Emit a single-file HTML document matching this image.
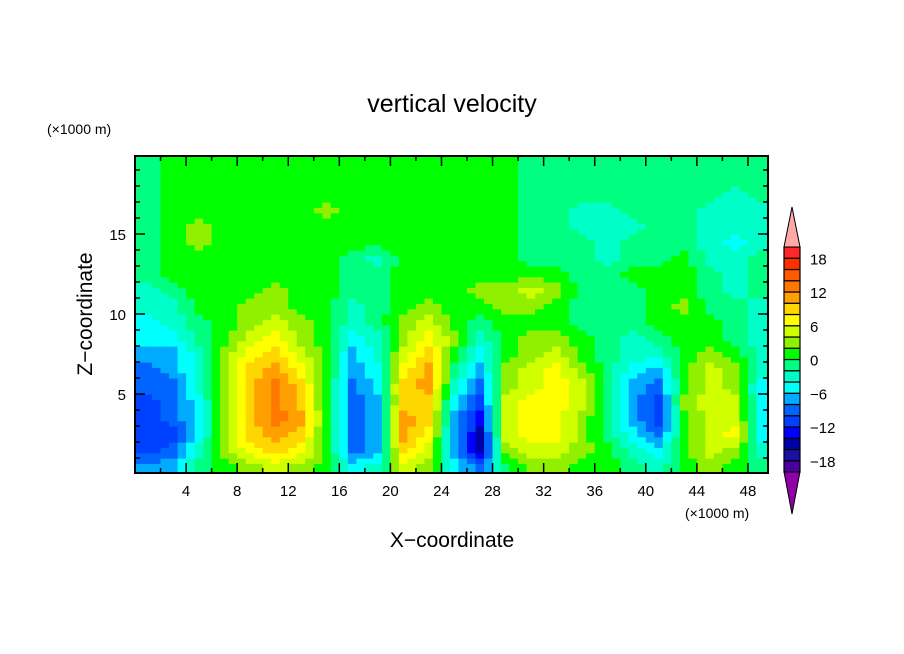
<!DOCTYPE html>
<html><head><meta charset="utf-8"><style>
body{margin:0;background:#fff;}
svg{display:block;font-family:"Liberation Sans",sans-serif;}
</style></head><body>
<svg id="chart" width="904" height="654" viewBox="0 0 904 654">
<rect width="904" height="654" fill="#fff"/>
<text x="452" y="112" text-anchor="middle" font-size="25">vertical velocity</text>
<text x="47" y="134" font-size="14">(×1000 m)</text>
<text x="685" y="518" font-size="14">(×1000 m)</text>
<text x="452" y="547" text-anchor="middle" font-size="21">X−coordinate</text>
<text transform="translate(92,314) rotate(-90)" text-anchor="middle" font-size="21">Z−coordinate</text>
<g id="field"></g>
<g id="axes"></g>
<g id="cbar"></g>
</svg>
<script>
const xCenters=[1,3,5,7,9,11,13,15,17,19,21,23,25,27,29,31,33,35,37,39,41,43,45,47,49];
const zCenters=[0.5,1.5,2.5,3.5,4.5,5.5,6.5,7.5,8.5,9.5,10.5,11.5,12.5,13.5,14.5,15.5,16.5,17.5,18.5,19.5];
const levels=[-20,-18,-16,-14,-12,-10,-8,-6,-4,-2,0,2,4,6,8,10,12,14,16,18,20];
const cbarLabels=[18,12,6,0,-6,-12,-18];
const xTickLabels=[4,8,12,16,20,24,28,32,36,40,44,48];
const zTickLabels=[5,10,15];
// one array per column (values from z=0.5 up to 19.5)
const wCols=[
[-7,-11,-11,-11,-11,-9,-9,-7,-5,-5,-3,-3,-1,-1,-1,-1,-1,-1,-1,-1],
[-7,-9,-11,-9,-9,-9,-7,-7,-5,-3,-3,-1,1,1,1,1,1,1,1,1],
[-1,-3,-5,-5,-5,-3,-3,-3,-1,-1,1,1,1,1,3,3,1,1,1,1],
[1,3,3,3,3,3,3,3,1,1,1,1,1,1,1,1,1,1,1,1],
[3,7,9,9,9,9,9,7,5,3,3,1,1,1,1,1,1,1,1,1],
[5,9,11,13,13,13,11,9,7,5,3,3,1,1,1,1,1,1,1,1],
[3,7,9,11,9,9,7,5,3,3,1,1,1,1,1,1,1,1,1,1],
[1,1,1,1,1,1,1,1,1,1,1,1,1,1,1,1,3,1,1,1],
[-5,-9,-9,-9,-9,-9,-7,-7,-5,-3,-3,-1,-1,-1,1,1,1,1,1,1],
[-3,-7,-7,-7,-7,-5,-5,-3,-3,-1,-1,-1,-1,-3,1,1,1,1,1,1],
[5,9,11,11,9,9,7,5,3,3,1,1,1,1,1,1,1,1,1,1],
[3,5,7,9,9,11,11,9,7,5,3,1,1,1,1,1,1,1,1,1],
[-5,-7,-7,-7,-5,-3,-1,1,3,1,1,1,1,1,1,1,1,1,1,1],
[-9,-15,-15,-13,-11,-9,-7,-5,-3,-1,1,3,1,1,1,1,1,1,1,1],
[-1,3,5,5,5,3,3,1,1,1,3,3,1,1,1,1,1,1,1,1],
[3,5,7,7,7,5,5,3,3,1,3,5,1,-1,-1,-1,-1,-1,-1,-1],
[3,5,7,7,7,7,7,5,3,1,1,3,1,-1,-1,-1,-1,-1,-1,-1],
[1,3,3,3,5,5,3,1,1,-1,-1,-1,-1,-1,-1,-3,-3,-1,-1,-1],
[1,1,-1,-1,-1,-1,-1,-1,-1,-1,-1,-1,-1,-3,-3,-3,-3,-1,-1,-1],
[-1,-3,-5,-7,-7,-7,-5,-3,-3,-1,-1,-1,1,-1,-1,-3,-1,-1,-1,-1],
[-3,-5,-9,-11,-11,-9,-7,-3,-1,1,1,1,1,-1,-1,-1,-1,-1,-1,-1],
[1,1,1,1,3,1,1,1,1,1,3,1,1,1,-1,-1,-1,-1,-1,-1],
[3,5,5,5,5,5,5,3,1,1,-1,-1,-1,-3,-3,-3,-3,-1,-1,-1],
[1,3,7,5,5,3,3,1,-1,-1,-1,-3,-3,-3,-5,-3,-3,-3,-1,-1],
[-1,-3,-5,-5,-5,-5,-3,-3,-3,-3,-3,-1,-1,-1,-3,-3,-3,-1,-1,-1]
];
const NS="http://www.w3.org/2000/svg";
const bandColors=["#4a00a0","#1a10a0","#0000a8","#0000ff","#0040ff","#0064ff","#00aaff","#00ffff","#00ffc8","#00ff80","#00ff00","#90f000","#d0ff00","#ffff00","#ffd700","#ffa000","#ff7800","#ff5a00","#ff3000","#ff2828"];
const X0=135,X1=768,Y0=473,Y1=156;
const pxPerKm=12.77;
function xs(v){return X0+v*pxPerKm;}
function zs(v){return 474-v*16;}
function colorOf(v){
  if(v>=levels[levels.length-1])return "#ffa8a8";
  if(v<levels[0])return "#9000a8";
  for(let i=0;i<levels.length-1;i++){if(v>=levels[i]&&v<levels[i+1])return bandColors[i];}
  return "#00ff00";
}
function valAt(x,z){
  let fi=(x-xCenters[0])/(xCenters[1]-xCenters[0]);
  let fj=(z-zCenters[0])/(zCenters[1]-zCenters[0]);
  fi=Math.max(0,Math.min(xCenters.length-1,fi));fj=Math.max(0,Math.min(zCenters.length-1,fj));
  const i0=Math.floor(fi),j0=Math.floor(fj),i1=Math.min(i0+1,xCenters.length-1),j1=Math.min(j0+1,zCenters.length-1);
  const a=fi-i0,b=fj-j0;
  return (1-a)*(1-b)*wCols[i0][j0]+a*(1-b)*wCols[i1][j0]+(1-a)*b*wCols[i0][j1]+a*b*wCols[i1][j1];
}
const field=document.getElementById('field');
const cp=document.createElementNS(NS,'clipPath');cp.setAttribute('id','pclip');
const cr=document.createElementNS(NS,'rect');cr.setAttribute('x',X0);cr.setAttribute('y',Y1);cr.setAttribute('width',X1-X0);cr.setAttribute('height',Y0-Y1);
cp.appendChild(cr);field.appendChild(cp);
field.setAttribute('clip-path','url(#pclip)');
const SUB=3;
const dx=(xCenters[1]-xCenters[0])/SUB,dz=(zCenters[1]-zCenters[0])/SUB;
for(let i=0;i<xCenters.length;i++){
  for(let j=0;j<zCenters.length;j++){
    for(let a=0;a<SUB;a++){for(let b=0;b<SUB;b++){
      const x=xCenters[i]-1+dx*(a+0.5),z=zCenters[j]-0.5+dz*(b+0.5);
      const r=document.createElementNS(NS,'rect');
      
      
      r.setAttribute('x',xs(x-dx/2).toFixed(2));
      r.setAttribute('y',zs(z+dz/2).toFixed(2));
      r.setAttribute('width',(dx*pxPerKm+0.6).toFixed(2));
      r.setAttribute('height',(dz*16+0.6).toFixed(2));
      r.setAttribute('fill',colorOf(valAt(x,z)));
      field.appendChild(r);
    }}
  }
}
const axes=document.getElementById('axes');
function ln(x1,y1,x2,y2,w,name){const l=document.createElementNS(NS,'line');l.setAttribute('x1',x1);l.setAttribute('y1',y1);l.setAttribute('x2',x2);l.setAttribute('y2',y2);l.setAttribute('stroke','#000');l.setAttribute('stroke-width',w);


axes.appendChild(l);}
const fr=document.createElementNS(NS,'rect');fr.setAttribute('x',X0);fr.setAttribute('y',Y1);fr.setAttribute('width',X1-X0);fr.setAttribute('height',Y0-Y1);fr.setAttribute('fill','none');fr.setAttribute('stroke','#000');fr.setAttribute('stroke-width','2');


axes.appendChild(fr);
for(let k=2;k<50;k+=2){const x=xs(k);const maj=k%4===0;const L=maj?10:5;
  ln(x,Y0,x,Y0-L,1.5,'x-tick');ln(x,Y1,x,Y1+L,1.5,'x-tick-top');}
for(let k=1;k<20;k++){const y=zs(k);const maj=k%5===0;const L=maj?10:5;
  ln(X0,y,X0+L,y,1.5,'z-tick');ln(X1,y,X1-L,y,1.5,'z-tick-right');}
function tx(x,y,s,anchor,size,name){const t=document.createElementNS(NS,'text');t.setAttribute('x',x);t.setAttribute('y',y);t.setAttribute('text-anchor',anchor);t.setAttribute('font-size',size);t.textContent=s;


return t;}
xTickLabels.forEach(v=>axes.appendChild(tx(xs(v),496,String(v),'middle',15,'x-tick-label')));
zTickLabels.forEach(v=>axes.appendChild(tx(126,zs(v)+6,String(v),'end',15,'z-tick-label')));
const cb=document.getElementById('cbar');
const CX=784,CW=16,CT=247,CB=472;
const boxH=(CB-CT)/(levels.length-1);
function cy(v){return CB-(v-levels[0])*boxH/(levels[1]-levels[0]);}
for(let i=0;i<levels.length-1;i++){
  const r=document.createElementNS(NS,'rect');
  
  
  r.setAttribute('x',CX);r.setAttribute('y',cy(levels[i+1]));r.setAttribute('width',CW);r.setAttribute('height',boxH);
  r.setAttribute('fill',bandColors[i]);r.setAttribute('stroke','#000');r.setAttribute('stroke-width','1.2');
  cb.appendChild(r);
}
const tri1=document.createElementNS(NS,'polygon');
tri1.setAttribute('points',`${CX},${CT} ${CX+CW},${CT} ${CX+CW/2},${CT-40}`);tri1.setAttribute('fill','#ffa8a8');tri1.setAttribute('stroke','#000');


cb.appendChild(tri1);
const tri2=document.createElementNS(NS,'polygon');
tri2.setAttribute('points',`${CX},${CB} ${CX+CW},${CB} ${CX+CW/2},${CB+42}`);tri2.setAttribute('fill','#9000a8');tri2.setAttribute('stroke','#000');


cb.appendChild(tri2);
cbarLabels.forEach(v=>cb.appendChild(tx(810,cy(v)+6,String(v).replace('-','−'),'start',15,'colorbar-label')));
</script>
</body></html>
